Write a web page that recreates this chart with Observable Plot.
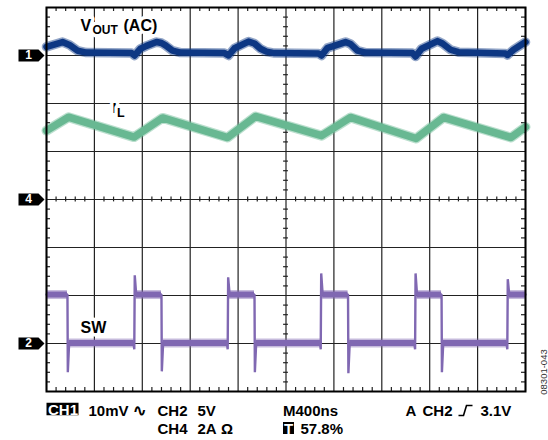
<!DOCTYPE html>
<html><head><meta charset="utf-8">
<script src="https://cdn.jsdelivr.net/npm/d3@7"></script>
<script src="https://cdn.jsdelivr.net/npm/@observablehq/plot@0.6"></script>
<style>
body{margin:0;background:#fff;}
#chart svg{display:block;}
</style></head><body><div id="chart"></div>
<script>
// ---------------- data ----------------
const timePerDivNs = 400;          // M400ns
const divisionsX = 10, divisionsY = 8;

// CH1: VOUT (AC), 10 mV/div, ground marker at +3 div
const voutTimeNs = [0,134,192,259,334,710, 735,785,835,919,960,994,1052,1119,1486,
  1520,1570,1687,1737,1787,1837,1904,2271, 2297,2347,2388,2497,2539,2597,2664,3056,
  3082,3132,3265,3307,3374,3441,3833, 3850,3900,4000];
const voutMv = [1.8,2.8,2.2,1.0,0.6,0.5, 0.0,1.4,2.0,2.8,2.6,2.1,1.0,0.6,0.5,
  0.0,1.5,2.9,2.5,1.4,0.8,0.5,0.4, 0.0,1.6,1.9,2.8,2.4,1.0,0.6,0.5,
  -0.2,1.4,3.0,2.5,1.2,0.7,0.4, 0.1,1.2,2.8];

// CH4: inductor current IL, 2 A/div, ground marker at 0 div
const ilTimeNs = [0,184,731,969,1512,1745,2297,2539,3086,3315,3879,4000];
const ilAmps   = [2.87,3.43,2.60,3.40,2.58,3.46,2.66,3.42,2.54,3.42,2.58,3.02];

// CH2: switch node SW, 5 V/div, ground marker at -3 div
const swRiseNs = [737,1517,2294,3082,3852];
const swFallNs = [175,960,1737,2518,3299];
const swRiseOvershootV = [7.1,6.9,7.3,7.3,6.7];
const swFallUndershootV = [-3.0,-2.9,-3.0,-3.1,-3.0];
const swHighV = 5.1, swLowV = 0.05, swPreRiseDipV = -0.6;

// channel markers
const channelNames = ["1","4","2"];
const channelOffsetDiv = [3,0,-3];
const ch1MvPerDiv = 10, ch4APerDiv = 2, ch2VPerDiv = 5;

// texts
const readCh1 = "CH1", readCh1Scale = "10mV", readAcSymbol = "\u223F";
const readCh2 = "CH2", readCh2Scale = "5V";
const readCh4 = "CH4", readCh4Scale = "2A", readOhm = "\u03A9";
const readTime = "M400ns", readTrigBox = "T", readTrigPos = "57.8%";
const readTrigA = "A", readTrigCh = "CH2", readTrigLevel = "3.1V";
const figureCode = "08301-043";

// ---------------- layout ----------------
const W = 548, H = 440, mL = 46, mR = 23, mT = 7, mB = 49;
const pxPerDivX = (W - mL - mR) / divisionsX;
const pxPerDivY = (H - mT - mB) / divisionsY;
const nsPerPx = timePerDivNs / pxPerDivX;
const tickNs = 4 * nsPerPx, tickDiv = 4 / pxPerDivY;
const tMax = timePerDivNs * divisionsX;

const cVout = "#0d3783", cIL = "#68b892", cSW = "#8068b2";
const gridColor = "#222";
const font = "'Liberation Sans', Arial, Helvetica, sans-serif";

const ch1 = v => channelOffsetDiv[0] + v / ch1MvPerDiv;
const ch4 = v => channelOffsetDiv[1] + v / ch4APerDiv;
const ch2 = v => channelOffsetDiv[2] + v / ch2VPerDiv;

const vout = voutTimeNs.map((t, i) => ({t, v: voutMv[i]}));
const il = ilTimeNs.map((t, i) => ({t, v: ilAmps[i]}));

// build SW trace from edge lists
const swEvents = [
  ...swFallNs.map((t, i) => ({t, type: "fall", peak: swFallUndershootV[i]})),
  ...swRiseNs.map((t, i) => ({t, type: "rise", peak: swRiseOvershootV[i]}))
].sort((a, b) => a.t - b.t);
const swPath = [{t: 0, v: swHighV}];
const swBands = [];
let segStart = 0;
for (const e of swEvents) {
  if (e.type === "fall") {
    swBands.push({t1: segStart, t2: e.t, v: swHighV});
    swPath.push({t: e.t, v: swHighV}, {t: e.t + 3, v: e.peak}, {t: e.t + 14, v: swLowV});
    segStart = e.t + 14;
  } else {
    swBands.push({t1: segStart, t2: e.t - 6, v: swLowV});
    swPath.push({t: e.t - 10, v: swLowV}, {t: e.t - 4, v: swPreRiseDipV}, {t: e.t, v: e.peak}, {t: e.t + 12, v: swHighV});
    segStart = e.t + 12;
  }
}
swBands.push({t1: segStart, t2: tMax, v: swHighV});
swPath.push({t: tMax, v: swHighV});

// minor tick positions
const majorX = d3.range(0, divisionsX + 1).map(k => k * timePerDivNs);
const majorY = d3.range(-divisionsY / 2, divisionsY / 2 + 1);
const minorX = d3.range(1, divisionsX * 5).filter(k => k % 5 !== 0).map(k => k * timePerDivNs / 5);
const minorY = d3.range(-19, 20).filter(k => k % 5 !== 0).map(k => k / 5);

// symbols
const arrowSymbol = {draw(ctx) { ctx.moveTo(-13, -6); ctx.lineTo(7, -6); ctx.lineTo(13, 0); ctx.lineTo(7, 6); ctx.lineTo(-13, 6); ctx.closePath(); }};
const boxSymbol = (w, h) => ({draw(ctx) { ctx.rect(-w / 2, -h / 2, w, h); }});
const risingEdgeSymbol = {draw(ctx) { ctx.moveTo(-7, 5); ctx.lineTo(-2, 5); ctx.lineTo(1, -5); ctx.lineTo(7, -5); }};

// absolutely placed label helper (px position of baseline start)
function label(text, px, py, o = {}) {
  return Plot.text([text], {
    text: d => d, frameAnchor: "top-left", dx: px - mL, dy: py - mT,
    lineAnchor: "bottom", textAnchor: "start", fontFamily: font,
    fontWeight: "bold", fontSize: 15, fill: "black", ...o
  });
}
function halo(text, px, py, size) {
  return label(text, px, py, {fontSize: size, stroke: "white", strokeWidth: 7, paintOrder: "stroke", strokeLinejoin: "round"});
}
function badge(px, py, w, h) {
  return Plot.dot([0], {frameAnchor: "top-left", dx: px - mL, dy: py - mT, symbol: boxSymbol(w, h), fill: "black", stroke: null, r: 3});
}

const chart = Plot.plot({
  width: W, height: H,
  marginLeft: mL, marginRight: mR, marginTop: mT, marginBottom: mB,
  style: {fontFamily: font, background: "white"},
  x: {domain: [0, tMax], axis: null},
  y: {domain: [-divisionsY / 2, divisionsY / 2], axis: null},
  marks: [
    // grid
    Plot.ruleX(majorX, {x: d => d, stroke: gridColor, strokeWidth: 1.2}),
    Plot.ruleY(majorY, {y: d => d, stroke: gridColor, strokeWidth: 1.2}),
    // minor ticks: border
    Plot.ruleX(minorX, {x: d => d, y1: divisionsY / 2, y2: divisionsY / 2 - tickDiv, stroke: gridColor, strokeWidth: 1.2}),
    Plot.ruleX(minorX, {x: d => d, y1: -divisionsY / 2, y2: -divisionsY / 2 + tickDiv, stroke: gridColor, strokeWidth: 1.2}),
    Plot.ruleY(minorY, {y: d => d, x1: 0, x2: tickNs, stroke: gridColor, strokeWidth: 1.2}),
    Plot.ruleY(minorY, {y: d => d, x1: tMax - tickNs, x2: tMax, stroke: gridColor, strokeWidth: 1.2}),
    // minor ticks: centre crosshair
    Plot.ruleX(minorX, {x: d => d, y1: -tickDiv * 0.6, y2: tickDiv * 0.6, stroke: gridColor, strokeWidth: 1.2}),
    Plot.ruleY(minorY, {y: d => d, x1: tMax / 2 - tickNs * 0.6, x2: tMax / 2 + tickNs * 0.6, stroke: gridColor, strokeWidth: 1.2}),

    // trace labels with white background
    halo("V", 80, 30, 16),
    halo("OUT", 92, 33.5, 12),
    halo("(AC)", 123, 30, 16),
    halo("I", 112, 112, 15),
    halo("L", 116.5, 116.5, 12.5),
    halo("SW", 80, 332, 16),

    // CH1 VOUT
    Plot.line(vout, {x: "t", y: d => ch1(d.v), stroke: cVout, strokeWidth: 9.5, strokeOpacity: 0.45, strokeLinejoin: "round"}),
    Plot.line(vout, {x: "t", y: d => ch1(d.v), stroke: cVout, strokeWidth: 6.5, strokeLinejoin: "round"}),
    // CH4 IL
    Plot.line(il, {x: "t", y: d => ch4(d.v), stroke: cIL, strokeWidth: 10, strokeOpacity: 0.45, strokeLinejoin: "round"}),
    Plot.line(il, {x: "t", y: d => ch4(d.v), stroke: cIL, strokeWidth: 7.5, strokeLinejoin: "round"}),
    // CH2 SW
    Plot.ruleY(swBands, {y: d => ch2(d.v), x1: "t1", x2: "t2", stroke: cSW, strokeWidth: 9, strokeOpacity: 0.45}),
    Plot.ruleY(swBands, {y: d => ch2(d.v), x1: "t1", x2: "t2", stroke: cSW, strokeWidth: 6}),
    Plot.line(swPath, {x: "t", y: d => ch2(d.v), stroke: cSW, strokeWidth: 2.4, strokeLinejoin: "miter"}),

    // frame
    Plot.frame({stroke: "black", strokeWidth: 2}),

    // channel ground markers
    Plot.dot(channelOffsetDiv, {y: d => d, frameAnchor: "left", dx: -15, symbol: arrowSymbol, fill: "black", stroke: null, r: 3}),
    Plot.text(channelOffsetDiv, {y: d => d, text: (d, i) => channelNames[i], frameAnchor: "left", dx: -18, fill: "white", fontWeight: "bold", fontSize: 12, fontFamily: font, textAnchor: "middle"}),

    // readout line 1
    badge(62, 408.5, 32, 12.5),
    label(readCh1, 47.5, 414.5, {fill: "white"}),
    label(readCh1Scale, 88, 415),
    label(readAcSymbol, 132, 415, {fontSize: 16}),
    label(readCh2, 157, 415),
    label(readCh2Scale, 197, 415),
    label(readTime, 282.5, 415),
    label(readTrigA, 405, 415),
    label(readTrigCh, 422, 415),
    Plot.dot([0], {frameAnchor: "top-left", dx: 465 - mL, dy: 410 - mT, symbol: risingEdgeSymbol, fill: "none", stroke: "black", strokeWidth: 1.6, r: 3}),
    label(readTrigLevel, 480, 415),
    // readout line 2
    label(readCh4, 157, 433.5),
    label(readCh4Scale, 197, 433.5),
    label(readOhm, 220.5, 433.5),
    badge(288, 427.5, 11, 12),
    label(readTrigBox, 283.5, 433, {fill: "white"}),
    label(readTrigPos, 300, 433.5),

    // figure code
    Plot.text([figureCode], {text: d => d, frameAnchor: "top-left", dx: 540 - mL, dy: 371.5 - mT, rotate: -90, fontSize: 9.5, fill: "#333", fontFamily: font, textAnchor: "middle"})
  ]
});
document.getElementById("chart").appendChild(chart);
</script></body></html>
